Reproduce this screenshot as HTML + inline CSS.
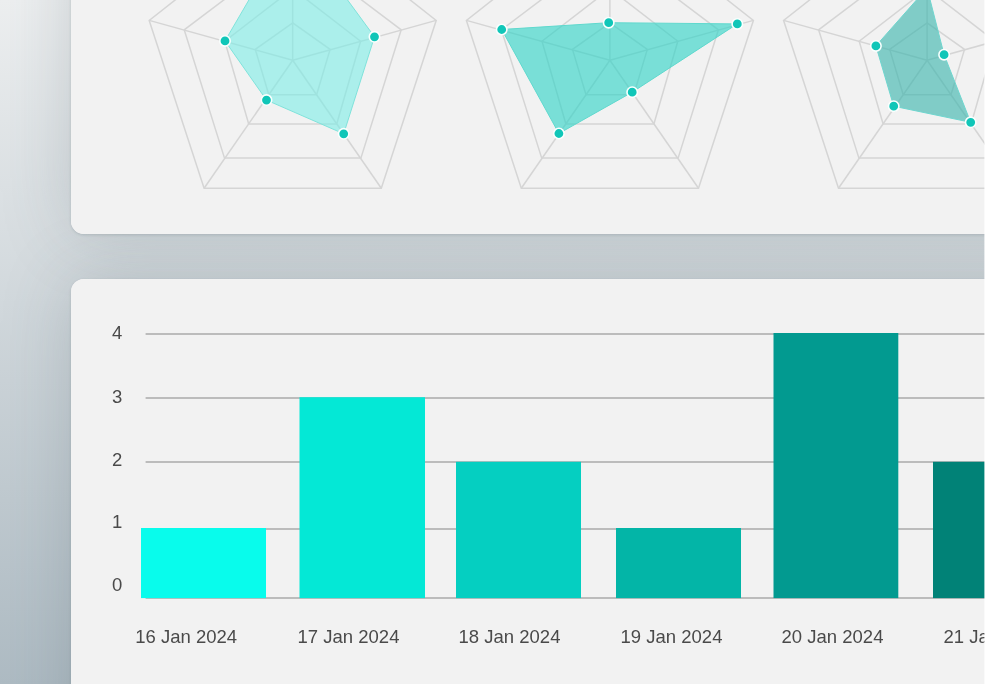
<!DOCTYPE html>
<html lang="en"><head><meta charset="utf-8"><title>Dashboard</title>
<style>
html,body{margin:0;padding:0;}
body{width:985px;height:684px;overflow:hidden;position:relative;font-family:"Liberation Sans",Arial,sans-serif;
background:linear-gradient(180deg,#edeff0 0%,#aebbc3 100%);}
.card{position:absolute;left:70.5px;width:1000px;background:#f2f2f2;border-radius:13px;}
.sh{box-shadow:0 0 70px rgba(70,85,95,.22),0 1px 3px rgba(70,85,95,.2);}
#c1,#s1{top:-100px;height:333.5px;}
#c2,#s2{top:278.5px;height:600px;}
svg{position:absolute;left:0;top:0;}
text{fill:#4a4a4a;font-family:"Liberation Sans",Arial,sans-serif;}
.edge{position:absolute;right:0;top:0;width:1px;height:100%;background:rgba(255,255,255,.6);}
</style></head><body>
<div class="card sh" id="s1"></div>
<div class="card sh" id="s2"></div>
<div class="card" id="c1"></div>
<div class="card" id="c2"></div>
<svg width="985" height="684" viewBox="0 0 985 684">
<g fill="none" stroke="#d5d5d5" stroke-width="1.5"><line x1="292.7" y1="60.2" x2="292.7" y2="-92.4"/><line x1="292.7" y1="60.2" x2="436.2" y2="20.4"/><line x1="292.7" y1="60.2" x2="381.3" y2="188.2"/><line x1="292.7" y1="60.2" x2="204.1" y2="188.2"/><line x1="292.7" y1="60.2" x2="149.2" y2="20.4"/><polygon points="292.7,22.9 330.1,49.4 316.6,94.7 268.8,94.7 255.3,49.4"/><polygon points="292.7,-11.2 360.6,41.2 336.7,123.9 248.7,123.9 224.8,41.2"/><polygon points="292.7,-52.0 401.2,29.8 360.9,158.1 224.5,158.1 184.2,29.8"/><polygon points="292.7,-92.4 436.2,20.4 381.3,188.2 204.1,188.2 149.2,20.4"/></g>
<polygon points="292.7,-75.0 374.5,36.8 343.7,133.8 266.5,100.1 225.0,40.9" fill="#7cede6" fill-opacity="0.6" stroke="#7fe3db" stroke-width="1"/>
<circle cx="292.7" cy="-75.0" r="5.2" fill="#10c6b8" stroke="#fafffe" stroke-width="1.6"/>
<circle cx="374.5" cy="36.8" r="5.2" fill="#10c6b8" stroke="#fafffe" stroke-width="1.6"/>
<circle cx="343.7" cy="133.8" r="5.2" fill="#10c6b8" stroke="#fafffe" stroke-width="1.6"/>
<circle cx="266.5" cy="100.1" r="5.2" fill="#10c6b8" stroke="#fafffe" stroke-width="1.6"/>
<circle cx="225.0" cy="40.9" r="5.2" fill="#10c6b8" stroke="#fafffe" stroke-width="1.6"/>
<g fill="none" stroke="#d5d5d5" stroke-width="1.5"><line x1="609.9" y1="60.2" x2="609.9" y2="-92.4"/><line x1="609.9" y1="60.2" x2="753.4" y2="20.4"/><line x1="609.9" y1="60.2" x2="698.5" y2="188.2"/><line x1="609.9" y1="60.2" x2="521.3" y2="188.2"/><line x1="609.9" y1="60.2" x2="466.4" y2="20.4"/><polygon points="609.9,22.9 647.3,49.4 633.8,94.7 586.0,94.7 572.5,49.4"/><polygon points="609.9,-11.2 677.8,41.2 653.9,123.9 565.9,123.9 542.0,41.2"/><polygon points="609.9,-52.0 718.4,29.8 678.1,158.1 541.7,158.1 501.4,29.8"/><polygon points="609.9,-92.4 753.4,20.4 698.5,188.2 521.3,188.2 466.4,20.4"/></g>
<polygon points="608.7,22.7 737.3,23.9 632.2,92.2 558.9,133.5 501.7,29.5" fill="#2fd4c6" fill-opacity="0.62" stroke="#5fd9ce" stroke-width="1"/>
<circle cx="608.7" cy="22.7" r="5.2" fill="#10c6b8" stroke="#fafffe" stroke-width="1.6"/>
<circle cx="737.3" cy="23.9" r="5.2" fill="#10c6b8" stroke="#fafffe" stroke-width="1.6"/>
<circle cx="632.2" cy="92.2" r="5.2" fill="#10c6b8" stroke="#fafffe" stroke-width="1.6"/>
<circle cx="558.9" cy="133.5" r="5.2" fill="#10c6b8" stroke="#fafffe" stroke-width="1.6"/>
<circle cx="501.7" cy="29.5" r="5.2" fill="#10c6b8" stroke="#fafffe" stroke-width="1.6"/>
<g fill="none" stroke="#d5d5d5" stroke-width="1.5"><line x1="927.1" y1="60.2" x2="927.1" y2="-92.4"/><line x1="927.1" y1="60.2" x2="1070.6" y2="20.4"/><line x1="927.1" y1="60.2" x2="1015.7" y2="188.2"/><line x1="927.1" y1="60.2" x2="838.5" y2="188.2"/><line x1="927.1" y1="60.2" x2="783.6" y2="20.4"/><polygon points="927.1,22.9 964.5,49.4 951.0,94.7 903.2,94.7 889.7,49.4"/><polygon points="927.1,-11.2 995.0,41.2 971.1,123.9 883.1,123.9 859.2,41.2"/><polygon points="927.1,-52.0 1035.6,29.8 995.3,158.1 858.9,158.1 818.6,29.8"/><polygon points="927.1,-92.4 1070.6,20.4 1015.7,188.2 838.5,188.2 783.6,20.4"/></g>
<polygon points="927.1,-12.0 944.1,54.7 970.7,122.3 893.7,106.2 875.9,45.9" fill="#3ab5ad" fill-opacity="0.62" stroke="#6fd6cf" stroke-width="1"/>
<circle cx="927.1" cy="-12.0" r="5.2" fill="#10c6b8" stroke="#fafffe" stroke-width="1.6"/>
<circle cx="944.1" cy="54.7" r="5.2" fill="#10c6b8" stroke="#fafffe" stroke-width="1.6"/>
<circle cx="970.7" cy="122.3" r="5.2" fill="#10c6b8" stroke="#fafffe" stroke-width="1.6"/>
<circle cx="893.7" cy="106.2" r="5.2" fill="#10c6b8" stroke="#fafffe" stroke-width="1.6"/>
<circle cx="875.9" cy="45.9" r="5.2" fill="#10c6b8" stroke="#fafffe" stroke-width="1.6"/>
<rect x="145.6" y="333.0" width="900" height="2" fill="#bcbcbc"/>
<rect x="145.6" y="397.0" width="900" height="2" fill="#bcbcbc"/>
<rect x="145.6" y="461.0" width="900" height="2" fill="#bcbcbc"/>
<rect x="145.6" y="528.0" width="900" height="2" fill="#bcbcbc"/>
<rect x="145.6" y="597.0" width="900" height="2" fill="#bcbcbc"/>
<rect x="141.0" y="528.0" width="125.0" height="70.1" fill="#08fcec"/>
<rect x="299.5" y="397.2" width="125.5" height="200.9" fill="#04e8d6"/>
<rect x="456.0" y="461.8" width="125.0" height="136.3" fill="#05cfc1"/>
<rect x="616.0" y="528.0" width="125.0" height="70.1" fill="#03b5a7"/>
<rect x="773.5" y="333.0" width="124.8" height="265.1" fill="#029a90"/>
<rect x="933.0" y="461.8" width="127.0" height="136.3" fill="#018277"/>
<text x="117.2" y="339.1" text-anchor="middle" font-size="18.5">4</text>
<text x="117.2" y="402.5" text-anchor="middle" font-size="18.5">3</text>
<text x="117.2" y="465.6" text-anchor="middle" font-size="18.5">2</text>
<text x="117.2" y="528.3" text-anchor="middle" font-size="18.5">1</text>
<text x="117.2" y="591.3" text-anchor="middle" font-size="18.5">0</text>
<text x="186.2" y="642.9" text-anchor="middle" font-size="18.5">16 Jan 2024</text>
<text x="348.5" y="642.9" text-anchor="middle" font-size="18.5">17 Jan 2024</text>
<text x="509.5" y="642.9" text-anchor="middle" font-size="18.5">18 Jan 2024</text>
<text x="671.5" y="642.9" text-anchor="middle" font-size="18.5">19 Jan 2024</text>
<text x="832.5" y="642.9" text-anchor="middle" font-size="18.5">20 Jan 2024</text>
<text x="994.5" y="642.9" text-anchor="middle" font-size="18.5">21 Jan 2024</text>
</svg>
<div class="edge"></div>
</body></html>
